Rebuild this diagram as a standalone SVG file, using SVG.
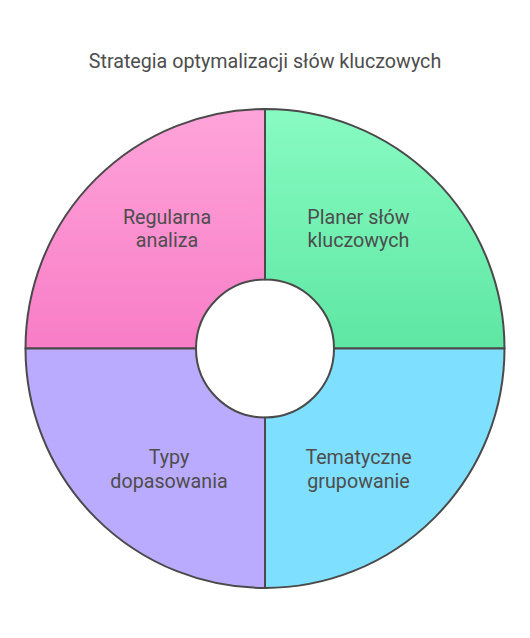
<svg xmlns="http://www.w3.org/2000/svg" width="530" height="638" viewBox="0 0 530 638">
<defs>
<linearGradient id="gPink" x1="0" y1="109" x2="0" y2="348.5" gradientUnits="userSpaceOnUse">
<stop offset="0" stop-color="#FEA4DA"/><stop offset="1" stop-color="#F87DC6"/>
</linearGradient>
<linearGradient id="gGreen" x1="0" y1="109" x2="0" y2="348.5" gradientUnits="userSpaceOnUse">
<stop offset="0" stop-color="#88FBC2"/><stop offset="1" stop-color="#5EE6A3"/>
</linearGradient>
</defs>
<style>
.q{stroke:#4a4a4a;stroke-width:2;stroke-linejoin:round}
.t{font-family:Roboto,"Liberation Sans",sans-serif;font-size:19.7px;fill:#4d4d4d;text-anchor:middle}
</style>
<rect width="530" height="638" fill="#ffffff"/>
<text class="t" x="265" y="68">Strategia optymalizacji słów kluczowych</text>
<g id="regularna-analiza">
<path class="q" fill="url(#gPink)" d="M25.5 348.5 A239.5 239.5 0 0 1 265 109 L265 279.5 A69 69 0 0 0 196 348.5 Z"/>
<text class="t" x="167" y="224">Regularna</text>
<text class="t" x="167" y="247">analiza</text>
</g>
<g id="planer-slow-kluczowych">
<path class="q" fill="url(#gGreen)" d="M265 109 A239.5 239.5 0 0 1 504.5 348.5 L334 348.5 A69 69 0 0 0 265 279.5 Z"/>
<text class="t" x="358.5" y="224">Planer słów</text>
<text class="t" x="358.5" y="247">kluczowych</text>
</g>
<g id="tematyczne-grupowanie">
<path class="q" fill="#7EDFFF" d="M504.5 348.5 A239.5 239.5 0 0 1 265 588 L265 417.5 A69 69 0 0 0 334 348.5 Z"/>
<text class="t" x="358.5" y="464">Tematyczne</text>
<text class="t" x="358.5" y="487.5">grupowanie</text>
</g>
<g id="typy-dopasowania">
<path class="q" fill="#BBABFE" d="M265 588 A239.5 239.5 0 0 1 25.5 348.5 L196 348.5 A69 69 0 0 0 265 417.5 Z"/>
<text class="t" x="169" y="464">Typy</text>
<text class="t" x="169" y="487.5">dopasowania</text>
</g>
</svg>
